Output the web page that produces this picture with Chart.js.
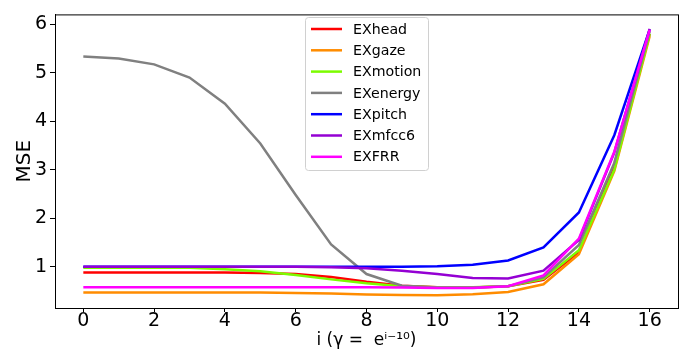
<!DOCTYPE html>
<html>
<head>
<meta charset="utf-8">
<script src="https://cdn.jsdelivr.net/npm/chart.js@4.4.1/dist/chart.umd.min.js"></script>
<style>
  html, body { margin: 0; padding: 0; background: #fff; }
  #wrap { width: 696px; height: 351px; }
</style>
</head>
<body>
<div id="wrap"><canvas id="mseChart" width="696" height="351"></canvas></div>
<script>
const steps = [0, 1, 2, 3, 4, 5, 6, 7, 8, 9, 10, 11, 12, 13, 14, 15, 16];
const xTicks = [0, 2, 4, 6, 8, 10, 12, 14, 16];
const yTicks = [1, 2, 3, 4, 5, 6];

const exHead   = [0.88, 0.88, 0.88, 0.88, 0.88, 0.87, 0.85, 0.79, 0.69, 0.61, 0.58, 0.57, 0.60, 0.73, 1.30, 3.10, 5.80];
const exGaze   = [0.47, 0.47, 0.47, 0.47, 0.47, 0.47, 0.46, 0.45, 0.43, 0.42, 0.415, 0.435, 0.48, 0.64, 1.26, 2.97, 5.75];
const exMotion = [0.98, 0.98, 0.98, 0.98, 0.95, 0.905, 0.83, 0.74, 0.66, 0.60, 0.58, 0.58, 0.60, 0.75, 1.34, 3.00, 5.80];
const exEnergy = [5.33, 5.29, 5.17, 4.90, 4.36, 3.54, 2.48, 1.46, 0.85, 0.61, 0.57, 0.57, 0.60, 0.78, 1.45, 3.14, 5.85];
const exPitch  = [1.00, 1.00, 1.00, 1.00, 1.00, 1.00, 1.00, 1.00, 1.00, 1.00, 1.01, 1.04, 1.13, 1.40, 2.12, 3.71, 5.89];
const exMfcc6  = [1.00, 1.00, 1.00, 1.00, 1.00, 1.00, 1.00, 0.99, 0.97, 0.92, 0.85, 0.77, 0.76, 0.92, 1.55, 3.35, 5.90];
const exFRR    = [0.58, 0.58, 0.58, 0.58, 0.58, 0.58, 0.58, 0.58, 0.58, 0.57, 0.56, 0.56, 0.60, 0.82, 1.58, 3.37, 5.88];

const series = [
  { label: 'EXhead', data: exHead, color: '#ff0000' },
  { label: 'EXgaze', data: exGaze, color: '#ff8c00' },
  { label: 'EXmotion', data: exMotion, color: '#7cfc00' },
  { label: 'EXenergy', data: exEnergy, color: '#808080' },
  { label: 'EXpitch', data: exPitch, color: '#0000ff' },
  { label: 'EXmfcc6', data: exMfcc6, color: '#9400d3' },
  { label: 'EXFRR', data: exFRR, color: '#ff00ff' },
];

const FONT = "'DejaVu Sans', sans-serif";

// top/right spines like matplotlib
const framePlugin = {
  id: 'frame',
  afterDraw(chart) {
    const { ctx, chartArea: a } = chart;
    ctx.save();
    ctx.strokeStyle = '#000';
    ctx.lineWidth = 1;
    ctx.strokeRect(a.left + 0.5, a.top + 0.5, a.right - a.left, a.bottom - a.top);
    ctx.restore();
  }
};

// legend box inside the plot, upper middle
const boxLegend = {
  id: 'boxLegend',
  afterDraw(chart) {
    const { ctx } = chart;
    const x = 305, y = 17, w = 123, h = 153, rowH = 21.3;
    ctx.save();
    ctx.fillStyle = 'rgba(255,255,255,0.8)';
    ctx.strokeStyle = '#d0d0d0';
    ctx.lineWidth = 1;
    ctx.beginPath();
    ctx.roundRect(x + 0.5, y + 0.5, w, h, 3);
    ctx.fill();
    ctx.stroke();
    ctx.font = '14.2px ' + FONT;
    ctx.textBaseline = 'middle';
    series.forEach((s, i) => {
      const cy = y + 12 + i * rowH;
      ctx.strokeStyle = s.color;
      ctx.lineWidth = 2.5;
      ctx.beginPath();
      ctx.moveTo(311, cy);
      ctx.lineTo(342, cy);
      ctx.stroke();
      ctx.fillStyle = '#000';
      ctx.fillText(s.label, 353, cy + 1);
    });
    ctx.restore();
  }
};

new Chart(document.getElementById('mseChart'), {
  type: 'line',
  data: {
    labels: steps,
    datasets: series.map((s, i) => ({
      label: s.label,
      data: s.data.map((v, j) => ({ x: steps[j], y: v })),
      borderColor: s.color,
      backgroundColor: s.color,
      borderWidth: 2.5,
      pointRadius: 0,
      tension: 0,
      fill: false,
      order: -i,
    })),
  },
  options: {
    responsive: false,
    animation: false,
    layout: { padding: { top: 10, right: 18, left: 0, bottom: 0 } },
    plugins: {
      legend: { display: false },
      tooltip: { enabled: false },
    },
    scales: {
      x: {
        type: 'linear',
        min: -0.8,
        max: 16.8,
        afterBuildTicks: (scale) => { scale.ticks = xTicks.map(v => ({ value: v })); },
        afterFit: (scale) => { scale.height = 43; },
        grid: { drawOnChartArea: false, drawTicks: true, tickLength: 4, color: '#000' },
        border: { display: true, color: '#000', width: 1 },
        ticks: { color: '#000', font: { family: FONT, size: 19 }, padding: -2, maxRotation: 0 },
        title: {
          display: true,
          text: 'i (\u03b3 =  e\u2071\u207b\u00b9\u2070)',
          color: '#000',
          font: { family: FONT, size: 17 },
          padding: { top: 0, bottom: 0 },
        },
      },
      y: {
        type: 'linear',
        min: 0.15,
        max: 6.2,
        afterBuildTicks: (scale) => { scale.ticks = yTicks.map(v => ({ value: v })); },
        afterFit: (scale) => { scale.width = 55; },
        grid: { drawOnChartArea: false, drawTicks: true, tickLength: 5, color: '#000' },
        border: { display: true, color: '#000', width: 1 },
        ticks: { color: '#000', font: { family: FONT, size: 19 }, padding: 3 },
        title: {
          display: true,
          text: 'MSE',
          color: '#000',
          font: { family: FONT, size: 20 },
          padding: { top: 13, bottom: 0 },
        },
      },
    },
  },
  plugins: [framePlugin, boxLegend],
});
</script>
</body>
</html>
